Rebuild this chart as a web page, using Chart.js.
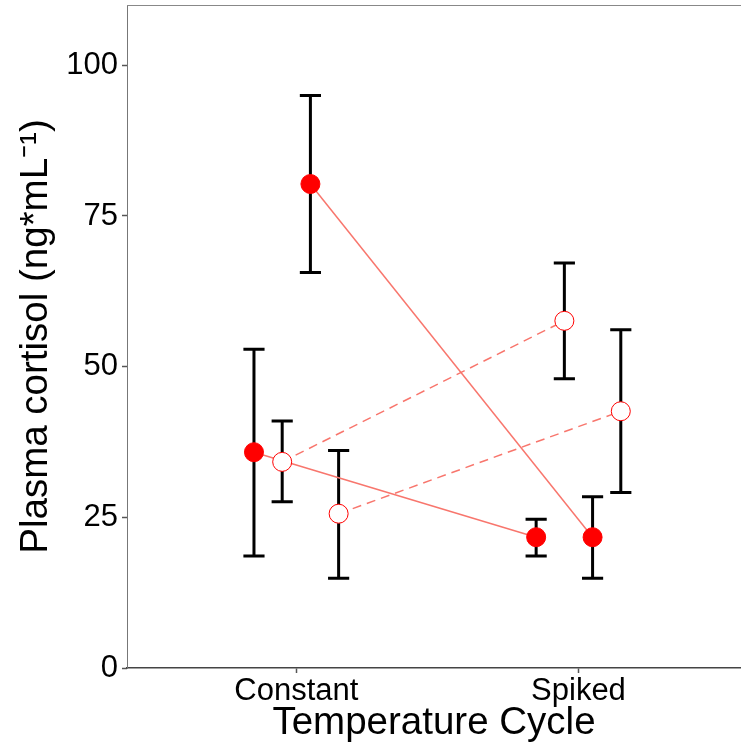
<!DOCTYPE html>
<html lang="en">
<head>
<meta charset="UTF-8">
<title>Plasma cortisol</title>
<script src="https://cdn.jsdelivr.net/npm/chart.js@4.4.0/dist/chart.umd.min.js"></script>
<style>
  body { margin: 0; background: #fff; }
  #wrap { width: 741px; height: 750px; }
</style>
</head>
<body>
<div id="wrap"><canvas id="cortisol"></canvas></div>
<script>
// categories on the x axis
const categories = ["Constant", "Spiked"];
const yTicks = [0, 25, 50, 75, 100];

// four groups, values per category (Constant, Spiked)
const g1Mean = [35.8, 21.7], g1Lo = [18.6, 18.6], g1Hi = [52.9, 24.7];
const g2Mean = [34.2, 57.6], g2Lo = [27.6, 48.0], g2Hi = [41.0, 67.2];
const g3Mean = [80.3, 21.7], g3Lo = [65.6, 14.9], g3Hi = [95.0, 28.4];
const g4Mean = [25.6, 42.6], g4Lo = [14.9, 29.1], g4Hi = [36.1, 56.1];

const groups = [
  { mean: g1Mean, lo: g1Lo, hi: g1Hi, filled: true },
  { mean: g2Mean, lo: g2Lo, hi: g2Hi, filled: false },
  { mean: g3Mean, lo: g3Lo, hi: g3Hi, filled: true },
  { mean: g4Mean, lo: g4Lo, hi: g4Hi, filled: false }
];
const dodge = [-0.15, -0.05, 0.05, 0.15];
const capHalf = 0.0375;
const lineColor = "#F8766D";
const drawOrder = [4, 2, 3, 1]; // open point 2 sits over line 1

// no extra padding from the scales, chart area fills the boxes
function noPad(s) {
  s.paddingTop = 0; s.paddingBottom = 0; s.paddingLeft = 0; s.paddingRight = 0;
}

// error bars go under lines/points
const errorBars = {
  id: "errorBars",
  beforeDatasetsDraw(chart) {
    const ctx = chart.ctx, xs = chart.scales.x, ys = chart.scales.y;
    ctx.save();
    ctx.strokeStyle = "#000";
    ctx.lineWidth = 3;
    groups.forEach((g, gi) => {
      categories.forEach((c, i) => {
        const xv = i + 1 + dodge[gi];
        const x = xs.getPixelForValue(xv);
        const x0 = xs.getPixelForValue(xv - capHalf);
        const x1 = xs.getPixelForValue(xv + capHalf);
        const yl = ys.getPixelForValue(g.lo[i]);
        const yh = ys.getPixelForValue(g.hi[i]);
        ctx.beginPath();
        ctx.moveTo(x, yl); ctx.lineTo(x, yh);
        ctx.moveTo(x0, yl); ctx.lineTo(x1, yl);
        ctx.moveTo(x0, yh); ctx.lineTo(x1, yh);
        ctx.stroke();
      });
    });
    ctx.restore();
  },
  afterDraw(chart) {
    // top frame line
    const ctx = chart.ctx, a = chart.chartArea;
    ctx.save();
    ctx.strokeStyle = "#888";
    ctx.lineWidth = 1;
    ctx.beginPath();
    ctx.moveTo(a.left, a.top + 0.5);
    ctx.lineTo(a.right, a.top + 0.5);
    ctx.stroke();
    ctx.restore();
  }
};

const datasets = groups.map((g, gi) => ({
  data: categories.map((c, i) => ({ x: i + 1 + dodge[gi], y: g.mean[i] })),
  showLine: true,
  borderColor: lineColor,
  borderWidth: 1.5,
  borderDash: g.filled ? [] : [9, 6],
  pointRadius: 9.5,
  pointHoverRadius: 9.5,
  pointBackgroundColor: g.filled ? "#FF0000" : "#FFFFFF",
  pointBorderColor: "#FF0000",
  pointBorderWidth: 1,
  order: drawOrder[gi]
}));

new Chart(document.getElementById("cortisol"), {
  type: "scatter",
  data: { datasets: datasets },
  plugins: [errorBars],
  options: {
    responsive: true,
    maintainAspectRatio: false,
    animation: false,
    layout: { autoPadding: false, padding: { top: 5, right: 0, left: 0, bottom: 0 } },
    plugins: { legend: { display: false }, tooltip: { enabled: false } },
    scales: {
      x: {
        type: "linear",
        min: 0.4,
        max: 2.576,
        afterBuildTicks: s => { s.ticks = categories.map((c, i) => ({ value: i + 1 })); },
        afterFit: s => { s.height = 82; noPad(s); },
        ticks: {
          callback: v => categories[v - 1],
          color: "#000",
          font: { family: "Liberation Sans", size: 31 },
          padding: 0,
          maxRotation: 0
        },
        grid: { drawOnChartArea: false, tickLength: 5, tickColor: "#555", tickWidth: 1.5 },
        border: { color: "#444", width: 1.5 },
        title: {
          display: true,
          text: "Temperature Cycle",
          color: "#000",
          font: { family: "Liberation Sans", size: 38.5 },
          padding: { top: 0, bottom: 4 }
        }
      },
      y: {
        min: 0,
        max: 110,
        afterBuildTicks: s => { s.ticks = yTicks.map(v => ({ value: v })); },
        afterFit: s => { s.width = 127; noPad(s); },
        ticks: {
          color: "#000",
          font: { family: "Liberation Sans", size: 31 },
          padding: 4
        },
        grid: { drawOnChartArea: false, tickLength: 5, tickColor: "#555", tickWidth: 1.5 },
        border: { color: "#777", width: 1 },
        title: {
          display: true,
          text: "Plasma cortisol (ng*mL⁻¹)",
          color: "#000",
          font: { family: "Liberation Sans", size: 38.5 },
          padding: { top: 13, bottom: 0 }
        }
      }
    }
  }
});
</script>
</body>
</html>
